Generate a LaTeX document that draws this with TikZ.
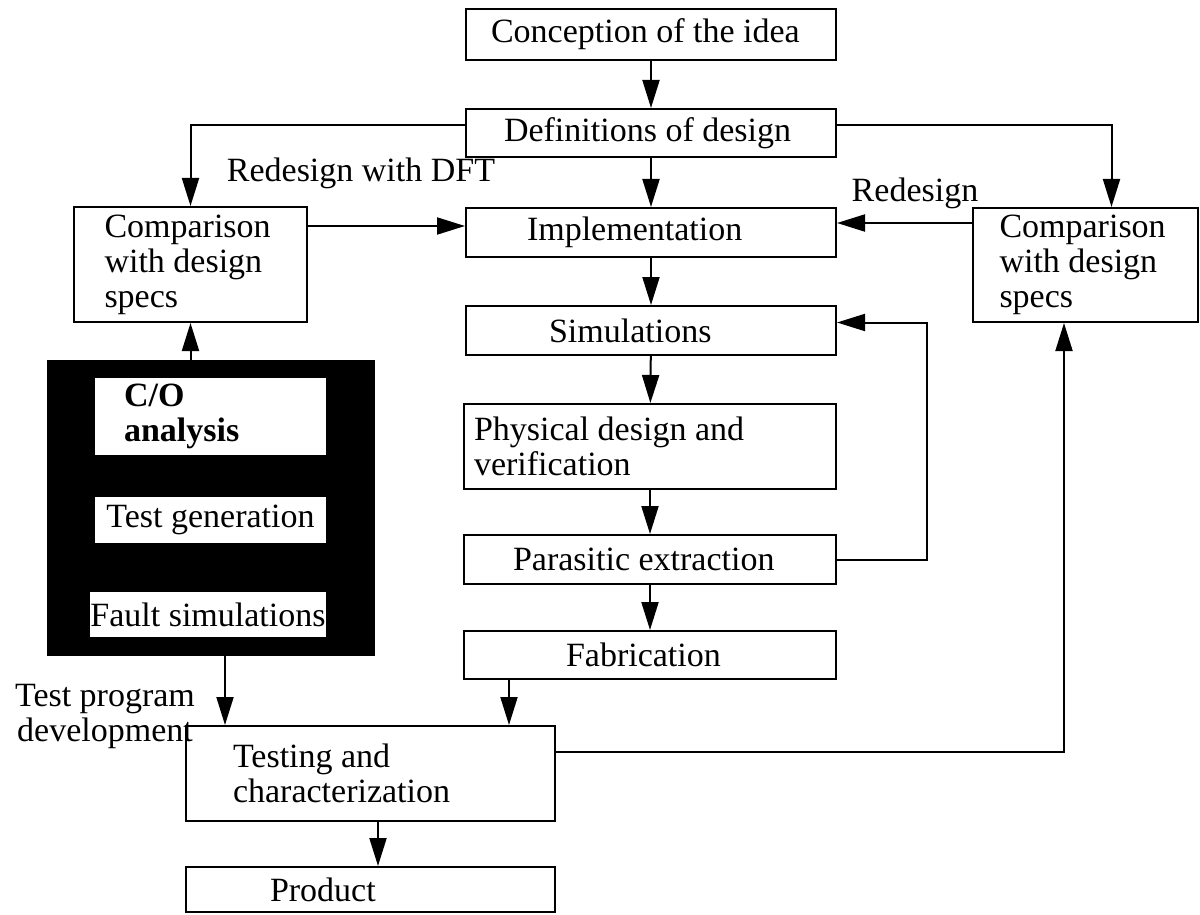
\documentclass[tikz,border=0pt]{standalone}
\usepackage{fontspec}
\setmainfont{Liberation Serif}
\usetikzlibrary{arrows.meta,positioning}
\tikzset{>={Triangle[length=14pt,width=8.5pt]}}

\begin{document}
\begin{tikzpicture}[x=0.5pt, y=-0.5pt,
  font=\fontsize{17}{17.5}\selectfont,
  stage/.style={draw, line width=1pt, inner sep=0pt, align=flush left},
  wbox/.style={fill=white, inner sep=0pt, align=center},
  link/.style={->, line width=1pt}]
\useasboundingbox (0,0) rectangle (1200,915);

% Flujo central (coordenadas en pixeles de la figura)
\node[stage, minimum width=185pt, minimum height=25.5pt, text width=160pt] (idea) at (651,34.5) {Conception of the idea};
\node[stage, minimum width=185pt, minimum height=24pt, text width=147pt]   (defs) at (651,133)  {Definitions of design};
\node[stage, minimum width=185pt, minimum height=24.5pt, text width=124pt] (impl) at (651,232.5) {Implementation};
\node[stage, minimum width=185pt, minimum height=24.5pt, text width=102pt] (sim)  at (651,330.5) {Simulations};
\node[stage, minimum width=186pt, minimum height=42.5pt, text width=176pt] (phys) at (650,446.5) {Physical design and\\verification};
\node[stage, minimum width=186pt, minimum height=24.5pt, text width=137pt] (para) at (650,559.5) {Parasitic extraction};
\node[stage, minimum width=186pt, minimum height=24pt, text width=84pt]    (fab)  at (650,655)  {Fabrication};

% Comparaciones a ambos lados
\node[stage, minimum width=116.5pt, minimum height=57.5pt, text width=86pt] (cmpL) at (190.5,264.5) {Comparison\\with design\\specs};
\node[stage, minimum width=112.5pt, minimum height=57pt, text width=86pt]   (cmpR) at (1085.5,265) {Comparison\\with design\\specs};

% Bloque negro de prueba
\node[fill=black, inner sep=0pt, minimum width=164pt, minimum height=148pt] (blk) at (211,508) {};
\node[wbox, minimum width=115.5pt, minimum height=38.5pt, align=flush left, text width=86.5pt,
      font=\fontsize{17}{17.5}\selectfont\bfseries] (co) at (210.5,416.5) {C/O\\analysis};
\node[wbox, minimum width=115.5pt, minimum height=23pt]   (tgen) at (210.5,520) {Test generation};
\node[wbox, minimum width=115pt, minimum height=22.5pt]   (fsim) at (208,614.5) {Fault simulations};

% Parte inferior
\node[stage, minimum width=184.5pt, minimum height=47.5pt, text width=137.5pt] (tst) at (370.5,773.5) {Testing and\\characterization};
\node[stage, minimum width=184.5pt, minimum height=22.5pt, text width=100.5pt] (prod) at (370.5,889.5) {Product};

% Etiquetas
\node (dft)   at (361,173) {Redesign with DFT};
\node (redes) at (915,193) {Redesign};
\node[align=center] (tpd) at (105,716) {Test program\\development};

% Puntos auxiliares
\coordinate (yL) at (0,226);
\coordinate (yR) at (0,223);
\coordinate (yT) at (0,752);
\coordinate (xT) at (1064,0);
\coordinate (xF) at (509,0);
\coordinate (xB) at (225,0);
\coordinate (xP) at (378,0);

% Conectores
\draw[link] (idea) -- (defs);
\draw[link] (defs) -- (impl);
\draw[link] (impl) -- (sim);
\draw[link] (sim) -- (phys);
\draw[link] (phys) -- (para);
\draw[link] (para) -- (fab);
\draw[link] ([yshift=4pt]defs.west) -| (cmpL.north);
\draw[link] ([yshift=4pt]defs.east) -| ([xshift=13pt]cmpR.north);
\draw[link] (cmpL.east |- yL) -- (impl.west |- yL);
\draw[link] (cmpR.west |- yR) -- (impl.east |- yR);
\draw[link] (para.east) -- ++(90,0) |- ([yshift=4pt]sim.east);
\draw[link] (blk.north -| cmpL.south) -- (cmpL.south);
\draw[link] (blk.south -| xB) -- (tst.north -| xB);
\draw[link] (fab.south -| xF) -- (tst.north -| xF);
\draw[link] (tst.east |- yT) -| (cmpR.south -| xT);
\draw[link] (tst.south -| xP) -- (prod.north -| xP);

\end{tikzpicture}
\end{document}
